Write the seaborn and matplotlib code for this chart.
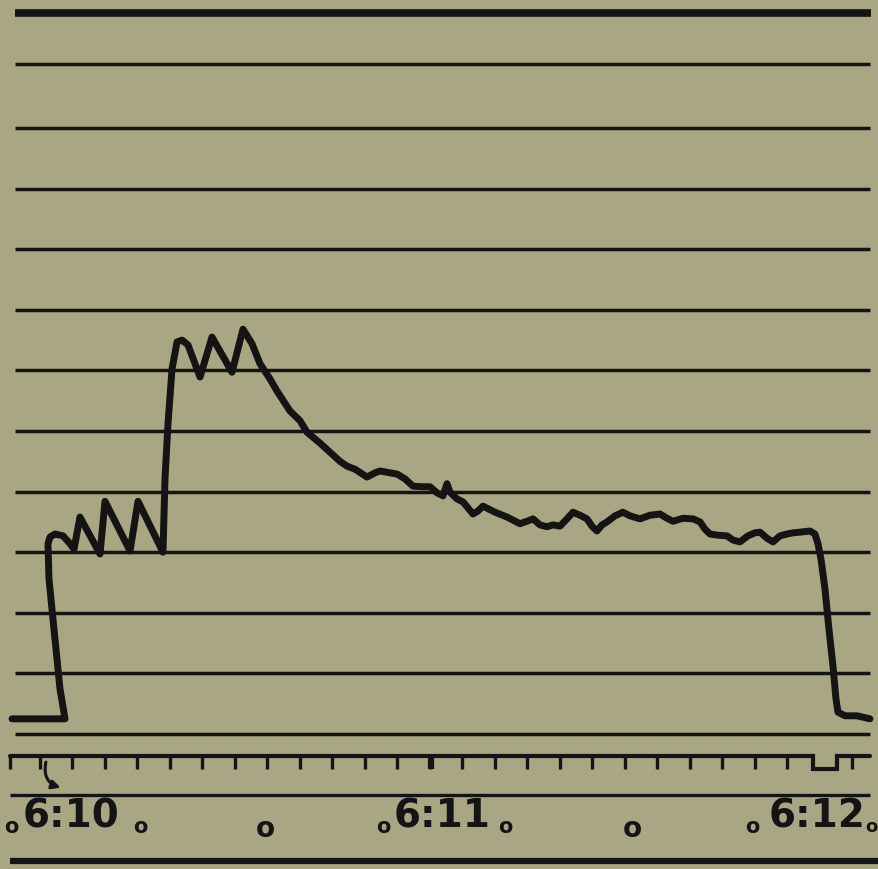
import pandas as pd
import matplotlib
matplotlib.use("Agg")
import matplotlib.pyplot as plt
import seaborn as sns

# =====================================
# DATA  (time in seconds after 6:10:00, height in ruled-line units)
# =====================================

trace_sec = [
    -4.31, 3.85, 3.08, 2.15, 1.38, 1.23, 1.54, 2.31, 3.54, 4.62, 5.23,
    6.15, 9.23, 10.0, 13.85, 15.08, 18.92, 19.23, 19.69, 20.31, 21.08,
    21.85, 22.77, 24.62, 26.46, 29.54, 31.23, 32.62, 33.85, 35.38, 36.46,
    38.46, 40.0, 41.08, 43.08, 44.62, 46.15, 47.23, 48.46, 50.31, 51.54,
    52.31, 53.85, 54.92, 56.15, 57.38, 58.77, 60.0, 61.08, 62.0, 62.62,
    63.08, 64.15, 65.08, 66.62, 67.38, 68.15, 70.0, 71.85, 73.85, 74.92,
    75.85, 76.92, 78.0, 78.92, 80.0, 81.08, 82.0, 83.08, 84.15, 84.92,
    85.69, 86.46, 87.23, 88.46, 89.69, 90.77, 92.31, 93.85, 95.38, 96.46,
    97.38, 98.92, 100.46, 101.54, 102.31, 103.08, 104.31, 105.69, 106.62, 107.69,
    108.92, 110.0, 110.77, 111.85, 112.77, 113.85, 114.92, 115.85, 116.92, 118.46,
    119.23, 119.69, 120.15, 120.77, 121.38, 122.0, 122.46, 122.77, 123.85, 125.69,
    127.69,
]

trace_height = [
    0.25, 0.25, 0.74, 1.73, 2.56, 3.14, 3.25, 3.30, 3.27, 3.14, 3.05,
    3.58, 2.97, 3.84, 3.02, 3.84, 3.00, 4.21, 5.12, 6.02, 6.47,
    6.50, 6.42, 5.89, 6.55, 5.97, 6.68, 6.44, 6.11, 5.86, 5.66,
    5.33, 5.17, 4.98, 4.80, 4.65, 4.50, 4.42, 4.37, 4.24, 4.31,
    4.34, 4.31, 4.29, 4.21, 4.09, 4.08, 4.08, 3.98, 3.93, 4.13,
    3.99, 3.88, 3.83, 3.63, 3.68, 3.76, 3.66, 3.58, 3.47, 3.51,
    3.55, 3.45, 3.42, 3.45, 3.43, 3.55, 3.66, 3.61, 3.55, 3.43,
    3.35, 3.45, 3.50, 3.60, 3.66, 3.60, 3.55, 3.61, 3.63, 3.56,
    3.51, 3.56, 3.55, 3.50, 3.38, 3.30, 3.28, 3.27, 3.20, 3.17,
    3.27, 3.32, 3.33, 3.23, 3.17, 3.27, 3.30, 3.32, 3.33, 3.35,
    3.30, 3.14, 2.89, 2.39, 1.73, 1.12, 0.58, 0.36, 0.30, 0.30,
    0.25,
]

ruled_levels = [0, 1, 2, 3, 4, 5, 6, 7, 8, 9, 10, 11.05]
top_level = 11.9

tick_secs = [-4.6] + list(range(0, 120, 5)) + [125]

minute_labels = ["6:10", "6:11", "6:12"]
minute_label_secs = [4.8, 61.8, 119.5]

small_o_secs = [-4.4, 15.5, 52.8, 71.6, 109.6]
big_o_secs = [34.6, 91.1]
edge_o_sec = 127.9

# =====================================
# STYLE
# =====================================

paper = "#a9a783"
ink = "#141414"

sns.set_style("white")
plt.rcParams["font.family"] = ["DejaVu Sans"]

fig = plt.figure(figsize=(8.79, 8.70), dpi=100, facecolor=paper)
ax = fig.add_axes([0, 0, 1, 1])
ax.set_facecolor(paper)

# =====================================
# RULED LINES
# =====================================

ax.hlines(ruled_levels, -3.85, 127.7, color=ink, linewidth=2.5)
ax.hlines(top_level, -3.85, 127.9, color=ink, linewidth=5.5)

# =====================================
# TRACE
# =====================================

df = pd.DataFrame({"sec": trace_sec, "height": trace_height})

sns.lineplot(
    data=df,
    x="sec",
    y="height",
    sort=False,
    estimator=None,
    color=ink,
    linewidth=5,
    ax=ax
)

for line in ax.lines:
    line.set_solid_capstyle("round")
    line.set_solid_joinstyle("round")

# =====================================
# TIME MARKER
# =====================================

mark_y = -0.36
tick_len = 0.22

ax.plot(
    [-4.6, 118.9, 118.9, 122.6, 122.6, 127.7],
    [mark_y, mark_y, mark_y - tick_len, mark_y - tick_len, mark_y, mark_y],
    color=ink,
    linewidth=3,
    solid_joinstyle="miter"
)

ax.vlines(tick_secs, mark_y - tick_len, mark_y, color=ink, linewidth=2.4)
ax.vlines([60.2], mark_y - tick_len, mark_y, color=ink, linewidth=4.5)

ax.hlines(-1.01, -4.6, 127.7, color=ink, linewidth=2.4)
ax.hlines(-2.1, -4.6, 129.5, color=ink, linewidth=4.5)

# =====================================
# LABELS
# =====================================

for label, sec in zip(minute_labels, minute_label_secs):
    ax.text(
        sec, -1.34, label,
        ha="center", va="center",
        fontsize=28, fontweight="bold", color=ink
    )

for sec in small_o_secs:
    ax.text(
        sec, -1.52, "o",
        ha="center", va="center",
        fontsize=15, fontweight="bold", color=ink
    )

for sec in big_o_secs:
    ax.text(
        sec, -1.55, "o",
        ha="center", va="center",
        fontsize=20, fontweight="bold", color=ink
    )

ax.text(
    edge_o_sec, -1.52, "o",
    ha="center", va="center",
    fontsize=13, fontweight="bold", color=ink
)

ax.annotate(
    "",
    xy=(3.6, -0.9),
    xytext=(1.0, -0.42),
    arrowprops=dict(
        arrowstyle="-|>,head_length=0.5,head_width=0.25",
        color=ink,
        lw=2.2,
        connectionstyle="arc3,rad=0.5"
    )
)

ax.set_xlim(-6.154, 129.08)
ax.set_ylim(-2.228, 12.129)
ax.axis("off")

fig.savefig("out.png", dpi=100, facecolor=paper)
